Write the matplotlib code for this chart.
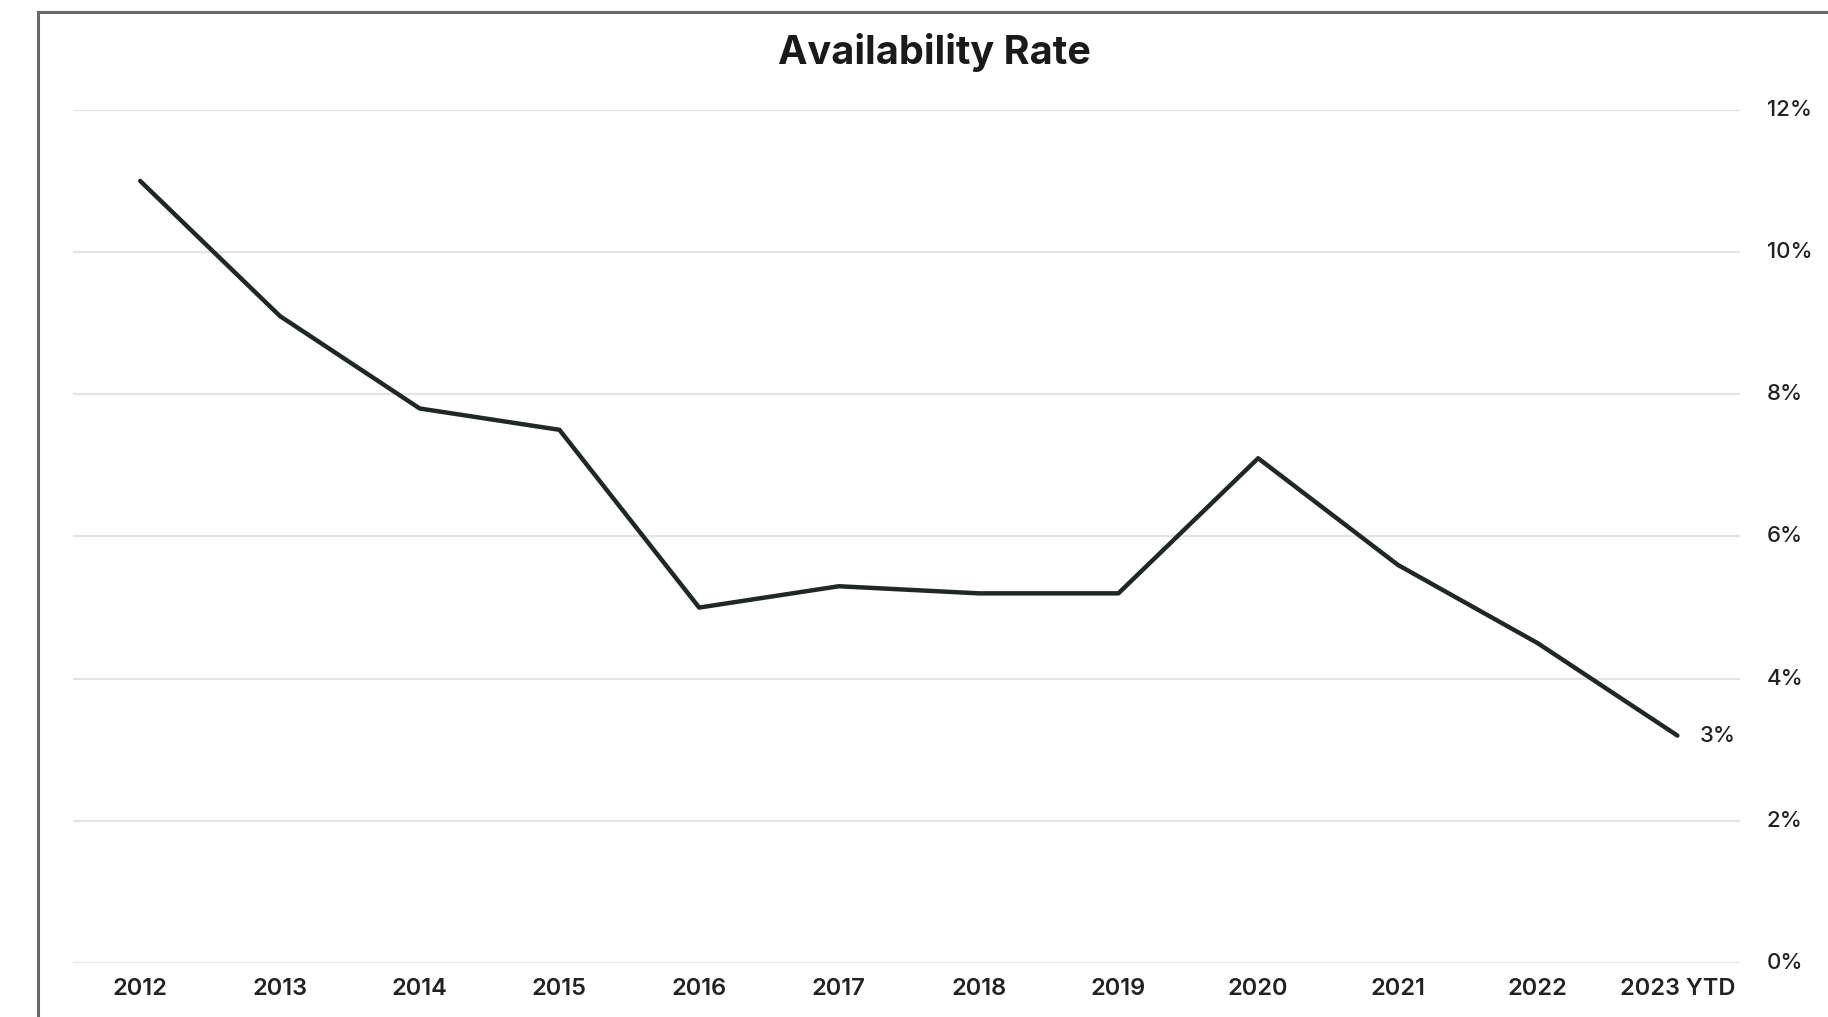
import matplotlib.pyplot as plt
from matplotlib.patches import Rectangle

# Dades
years = ['2012', '2013', '2014', '2015', '2016', '2017', '2018', '2019',
         '2020', '2021', '2022', '2023 YTD']
rate = [11.0, 9.1, 7.8, 7.5, 5.0, 5.3, 5.2, 5.2, 7.1, 5.6, 4.5, 3.2]
y_ticks = [0, 2, 4, 6, 8, 10, 12]
last_label = '3%'

plt.rcParams['font.family'] = ['Inter', 'DejaVu Sans']

fig = plt.figure(figsize=(18.28, 10.17), dpi=100)
ax = fig.add_axes([0.040, 0.053, 0.912, 0.839])

x = list(range(len(years)))
ax.plot(x, rate, color='#1f2824', lw=3.2, solid_capstyle='round', zorder=3)

# Etiqueta del darrer punt
ax.annotate(last_label, (x[-1], rate[-1]), xytext=(16, 0), textcoords='offset points',
            ha='left', va='center', fontsize=16, fontweight='medium', color='#222222')

ax.set_xlim(-0.48, 11.45)
ax.set_ylim(0, 12)
ax.set_xticks(x)
ax.set_xticklabels(years, fontsize=17, fontweight='semibold', color='#222222')
ax.set_yticks(y_ticks)
ax.set_yticklabels([f'{v}%' for v in y_ticks], fontsize=16, fontweight='medium',
                   color='#222222')
ax.yaxis.tick_right()
ax.tick_params(axis='y', length=0, pad=19)
ax.tick_params(axis='x', length=0, pad=11)
for lbl in ax.get_yticklabels():
    lbl.set_va('center')

# Quadrícula
ax.grid(True, axis='y', color='#e4e4e4', lw=1.6)
ax.set_axisbelow(True)
for s in ax.spines.values():
    s.set_visible(False)

# Títol
fig.text(0.511, 0.948, 'Availability Rate', ha='center', va='center',
         fontsize=28.5, fontweight='bold', color='#1a1a1a')

# Marc exterior
fig.patches.append(Rectangle((38 / 1828, -0.1), 1.2, 1.1 - 12 / 1017,
                             transform=fig.transFigure, fill=False,
                             edgecolor='#6a6a6a', lw=2.2))

fig.savefig('out.png', dpi=100)
